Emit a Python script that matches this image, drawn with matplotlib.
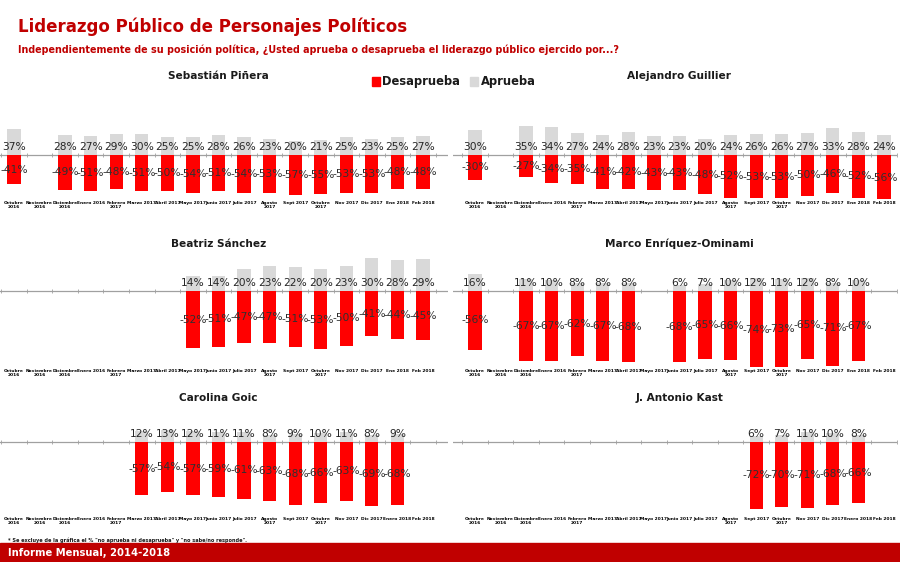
import numpy as np
import matplotlib.pyplot as plt

# categorias (meses)
meses = ["Octubre\n2016", "Noviembre\n2016", "Diciembre\n2016", "Enero 2016", "Febrero\n2017",
         "Marzo 2017", "Abril 2017", "Mayo 2017", "Junio 2017", "Julio 2017", "Agosto\n2017",
         "Sept 2017", "Octubre\n2017", "Nov 2017", "Dic 2017", "Ene 2018", "Feb 2018"]
meses_abajo = meses[:15] + ["Enero 2018", "Feb 2018"]

N = None  # sin medicion

pinera_aprueba = [37, N, 28, 27, 29, 30, 25, 25, 28, 26, 23, 20, 21, 25, 23, 25, 27]
pinera_desaprueba = [41, N, 49, 51, 48, 51, 50, 54, 51, 54, 53, 57, 55, 53, 53, 48, 48]

guillier_aprueba = [30, N, 35, 34, 27, 24, 28, 23, 23, 20, 24, 26, 26, 27, 33, 28, 24]
guillier_desaprueba = [30, N, 27, 34, 35, 41, 42, 43, 43, 48, 52, 53, 53, 50, 46, 52, 56]

sanchez_aprueba = [N, N, N, N, N, N, N, 14, 14, 20, 23, 22, 20, 23, 30, 28, 29]
sanchez_desaprueba = [N, N, N, N, N, N, N, 52, 51, 47, 47, 51, 53, 50, 41, 44, 45]

meo_aprueba = [16, N, 11, 10, 8, 8, 8, N, 6, 7, 10, 12, 11, 12, 8, 10, N]
meo_desaprueba = [56, N, 67, 67, 62, 67, 68, N, 68, 65, 66, 74, 73, 65, 71, 67, N]

goic_aprueba = [N, N, N, N, N, 12, 13, 12, 11, 11, 8, 9, 10, 11, 8, 9, N]
goic_desaprueba = [N, N, N, N, N, 57, 54, 57, 59, 61, 63, 68, 66, 63, 69, 68, N]

kast_aprueba = [N, N, N, N, N, N, N, N, N, N, N, 6, 7, 11, 10, 8, N]
kast_desaprueba = [N, N, N, N, N, N, N, N, N, N, N, 72, 70, 71, 68, 66, N]

ROJO = '#FF0000'
GRIS = '#D9D9D9'
ROJO_OSCURO = '#C00000'
W, H = 900, 562

fig = plt.figure(figsize=(9, 5.62), dpi=100)


def px(x, y):
    return x / W, 1 - y / H


def draw_panel(col, fila, nombre, aprueba, desaprueba, etiquetas, escala):
    # columnas: (borde izq, borde der, centro del primer mes)
    cols = {0: (0, 448, 14), 1: (453, 897, 475)}
    # filas: (arriba, abajo, linea cero, y del titulo)
    filas = {0: (92, 199, 155, 76), 1: (248, 367, 291, 244), 2: (402, 515, 442, 398)}
    izq, der, c0 = cols[col]
    arriba, abajo, cero, ytit = filas[fila]
    paso = 25.56

    ax = fig.add_axes([izq / W, 1 - abajo / H, (der - izq) / W, (abajo - arriba) / H])
    ax.set_xlim((izq - c0) / paso, (der - c0) / paso)
    ax.set_ylim(-(abajo - cero) / escala, (cero - arriba) / escala)
    ax.patch.set_alpha(0)
    for s in ax.spines.values():
        s.set_visible(False)

    x = np.arange(len(etiquetas))
    ia = [i for i in x if aprueba[i] is not None]
    idd = [i for i in x if desaprueba[i] is not None]
    va = np.array([aprueba[i] for i in ia])
    vd = np.array([desaprueba[i] for i in idd])

    ax.bar(ia, va, width=0.52, color=GRIS, zorder=2)
    ax.bar(idd, -vd, width=0.52, color=ROJO, zorder=2)

    ax.axhline(0, color='#A0A0A0', lw=0.9, zorder=1)
    marcas = np.arange(-1, len(etiquetas) + 1) + 0.5
    ax.plot(marcas, np.zeros(len(marcas)), ls='none', marker='|', ms=2.5,
            mew=0.6, color='#A0A0A0', zorder=1)

    for i, v in zip(ia, va):
        ax.annotate(f"{v}%", (i, 0), xytext=(0, 2), textcoords='offset points',
                    ha='center', va='bottom', fontsize=7.7, color='#262626', zorder=3)
    for i, v in zip(idd, vd):
        ax.text(i, -v / 2, f"-{v}%", ha='center', va='center', fontsize=7.7,
                color='#303030', zorder=3)

    ax.set_xticks(x)
    ax.set_xticklabels(etiquetas, fontsize=3.2, fontweight='bold', linespacing=1.1)
    ax.tick_params(axis='x', length=0, pad=1.5)
    ax.set_yticks([])

    fx, fy = px(c0 + 8 * paso, ytit)
    fig.text(fx, fy, nombre, ha='center', va='center', fontsize=7.6,
             fontweight='bold', color='#1A1A1A')
    return ax


draw_panel(0, 0, "Sebastián Piñera", pinera_aprueba, pinera_desaprueba, meses, 0.71)
draw_panel(1, 0, "Alejandro Guillier", guillier_aprueba, guillier_desaprueba, meses, 0.82)
draw_panel(0, 1, "Beatriz Sánchez", sanchez_aprueba, sanchez_desaprueba, meses, 1.1)
draw_panel(1, 1, "Marco Enríquez-Ominami", meo_aprueba, meo_desaprueba, meses, 1.05)
draw_panel(0, 2, "Carolina Goic", goic_aprueba, goic_desaprueba, meses_abajo, 0.93)
draw_panel(1, 2, "J. Antonio Kast", kast_aprueba, kast_desaprueba, meses_abajo, 0.93)

# titulos
fig.text(*px(18, 27), "Liderazgo Público de Personajes Políticos", ha='left', va='center',
         fontsize=12, fontweight='bold', color=ROJO_OSCURO)
fig.text(*px(18, 50), "Independientemente de su posición política, ¿Usted aprueba o "
         "desaprueba el liderazgo público ejercido por...?", ha='left', va='center',
         fontsize=6.9, fontweight='bold', color=ROJO_OSCURO)

# leyenda
lx, ly = px(372, 86)
fig.patches.append(plt.Rectangle((lx, ly), 8 / W, 9 / H, color=ROJO,
                                 transform=fig.transFigure))
fig.text(*px(382, 82), "Desaprueba", ha='left', va='center', fontsize=8.3,
         fontweight='bold', color='#1A1A1A')
gx, gy = px(470, 86)
fig.patches.append(plt.Rectangle((gx, gy), 8 / W, 9 / H, color=GRIS,
                                 transform=fig.transFigure))
fig.text(*px(481, 82), "Aprueba", ha='left', va='center', fontsize=8.3,
         fontweight='bold', color='#1A1A1A')

# nota y franja inferior
fig.text(*px(8, 540), '* Se excluye de la gráfica el % "no aprueba ni desaprueba" y '
         '"no sabe/no responde".', ha='left', va='center', fontsize=3.6,
         fontweight='bold', color='#1A1A1A')
bx, by = px(0, 562)
fig.patches.append(plt.Rectangle((bx, by), 1, 19 / H, color=ROJO_OSCURO,
                                 transform=fig.transFigure))
fig.text(*px(8, 553), "Informe Mensual, 2014-2018", ha='left', va='center',
         fontsize=7.2, fontweight='bold', color='white')

fig.savefig("out.png", dpi=100)
